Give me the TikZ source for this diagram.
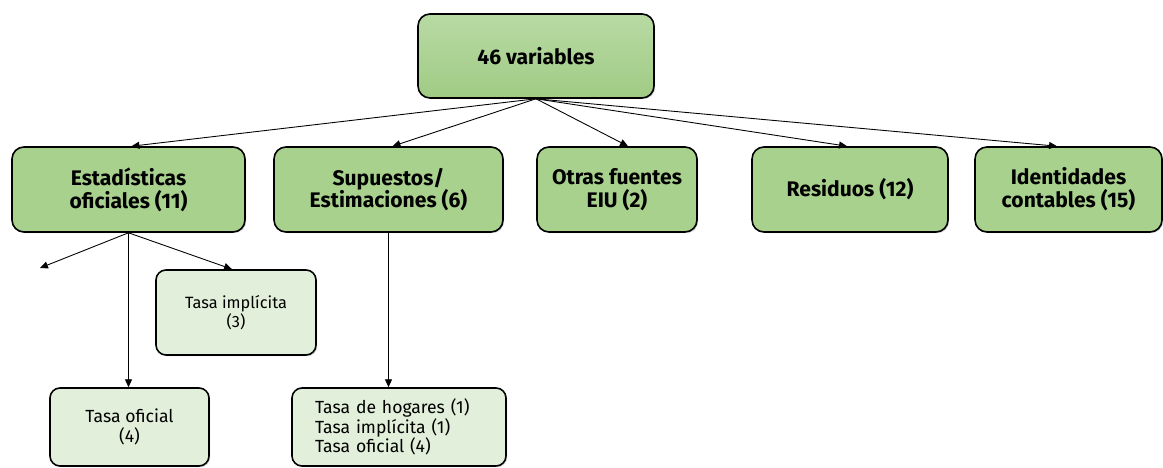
\documentclass[tikz,border=0pt]{standalone}
\usepackage{fontspec}
\setmainfont{Fira Sans}
\usetikzlibrary{arrows.meta,shadows}

\definecolor{verdecaja}{HTML}{A9D18E}
\definecolor{verdeclaro}{HTML}{E2EFDA}
\definecolor{verdealto}{HTML}{B8DAA4}
\definecolor{verdebajo}{HTML}{A0CB84}

\begin{document}
\begin{tikzpicture}[x=1cm, y=1cm,
    caja/.style={draw=black, line width=0.9pt, rounded corners=0.24cm, fill=verdecaja,
                 font=\fontsize{12}{13}\selectfont\bfseries, align=center, inner sep=2pt,
                 minimum height=1.7cm,
                 drop shadow={shadow xshift=0.7pt, shadow yshift=-0.7pt, opacity=0.35}},
    subcaja/.style={caja, fill=verdeclaro, font=\fontsize{10}{11.2}\selectfont, rounded corners=0.2cm},
    flecha/.style={-{Triangle[length=4.5pt,width=4pt]}, line width=0.5pt}]
    \useasboundingbox (0,0) rectangle (23.26,-9.36);

    % raiz
    \node[caja, top color=verdealto, bottom color=verdebajo, minimum width=4.72cm, minimum height=1.68cm]
      (raiz) at (10.72,-1.12) {46 variables};

    % segundo nivel
    \node[caja, minimum width=4.66cm] (est) at (2.57,-3.79) {Estadísticas\\oficiales (11)};
    \node[caja, minimum width=4.58cm] (sup) at (7.77,-3.79) {Supuestos/\\Estimaciones (6)};
    \node[caja, minimum width=3.2cm] (otras) at (12.34,-3.79) {Otras fuentes\\EIU (2)};
    \node[caja, minimum width=3.92cm] (res) at (17.0,-3.79) {Residuos (12)};
    \node[caja, minimum width=3.74cm] (ident) at (21.37,-3.79) {Identidades\\contables (15)};

    % tercer nivel
    \node[subcaja, minimum width=3.2cm, font=\fontsize{9.3}{11}\selectfont] (imp) at (4.72,-6.25) {Tasa implícita\\(3)};
    \node[subcaja, minimum width=3.18cm, minimum height=1.56cm] (ofi) at (2.59,-8.54) {Tasa oficial\\(4)};
    \node[subcaja, text width=3.36cm, inner xsep=0.46cm, minimum height=1.56cm, align=left] (hog) at (7.98,-8.54)
      {Tasa de hogares (1)\\Tasa implícita (1)\\Tasa oficial (4)};
    \coordinate (suelto) at (0.8,-5.36);

    \draw[flecha] (raiz.south) -- ([xshift=0.06cm]est.north);
    \draw[flecha] (raiz.south) -- ([xshift=0.08cm]sup.north);
    \draw[flecha] (raiz.south) -- ([xshift=0.22cm]otras.north);
    \draw[flecha] (raiz.south) -- ([xshift=-0.06cm]res.north);
    \draw[flecha] (raiz.south) -- ([xshift=-0.23cm]ident.north);

    \draw[flecha] (est.south) -- (suelto);
    \draw[flecha] (est.south) -- ([xshift=-0.08cm]imp.north);
    \draw[flecha] (est.south) -- (est.south |- ofi.north);
    \draw[flecha] (sup.south) -- (sup.south |- hog.north);
\end{tikzpicture}
\end{document}
